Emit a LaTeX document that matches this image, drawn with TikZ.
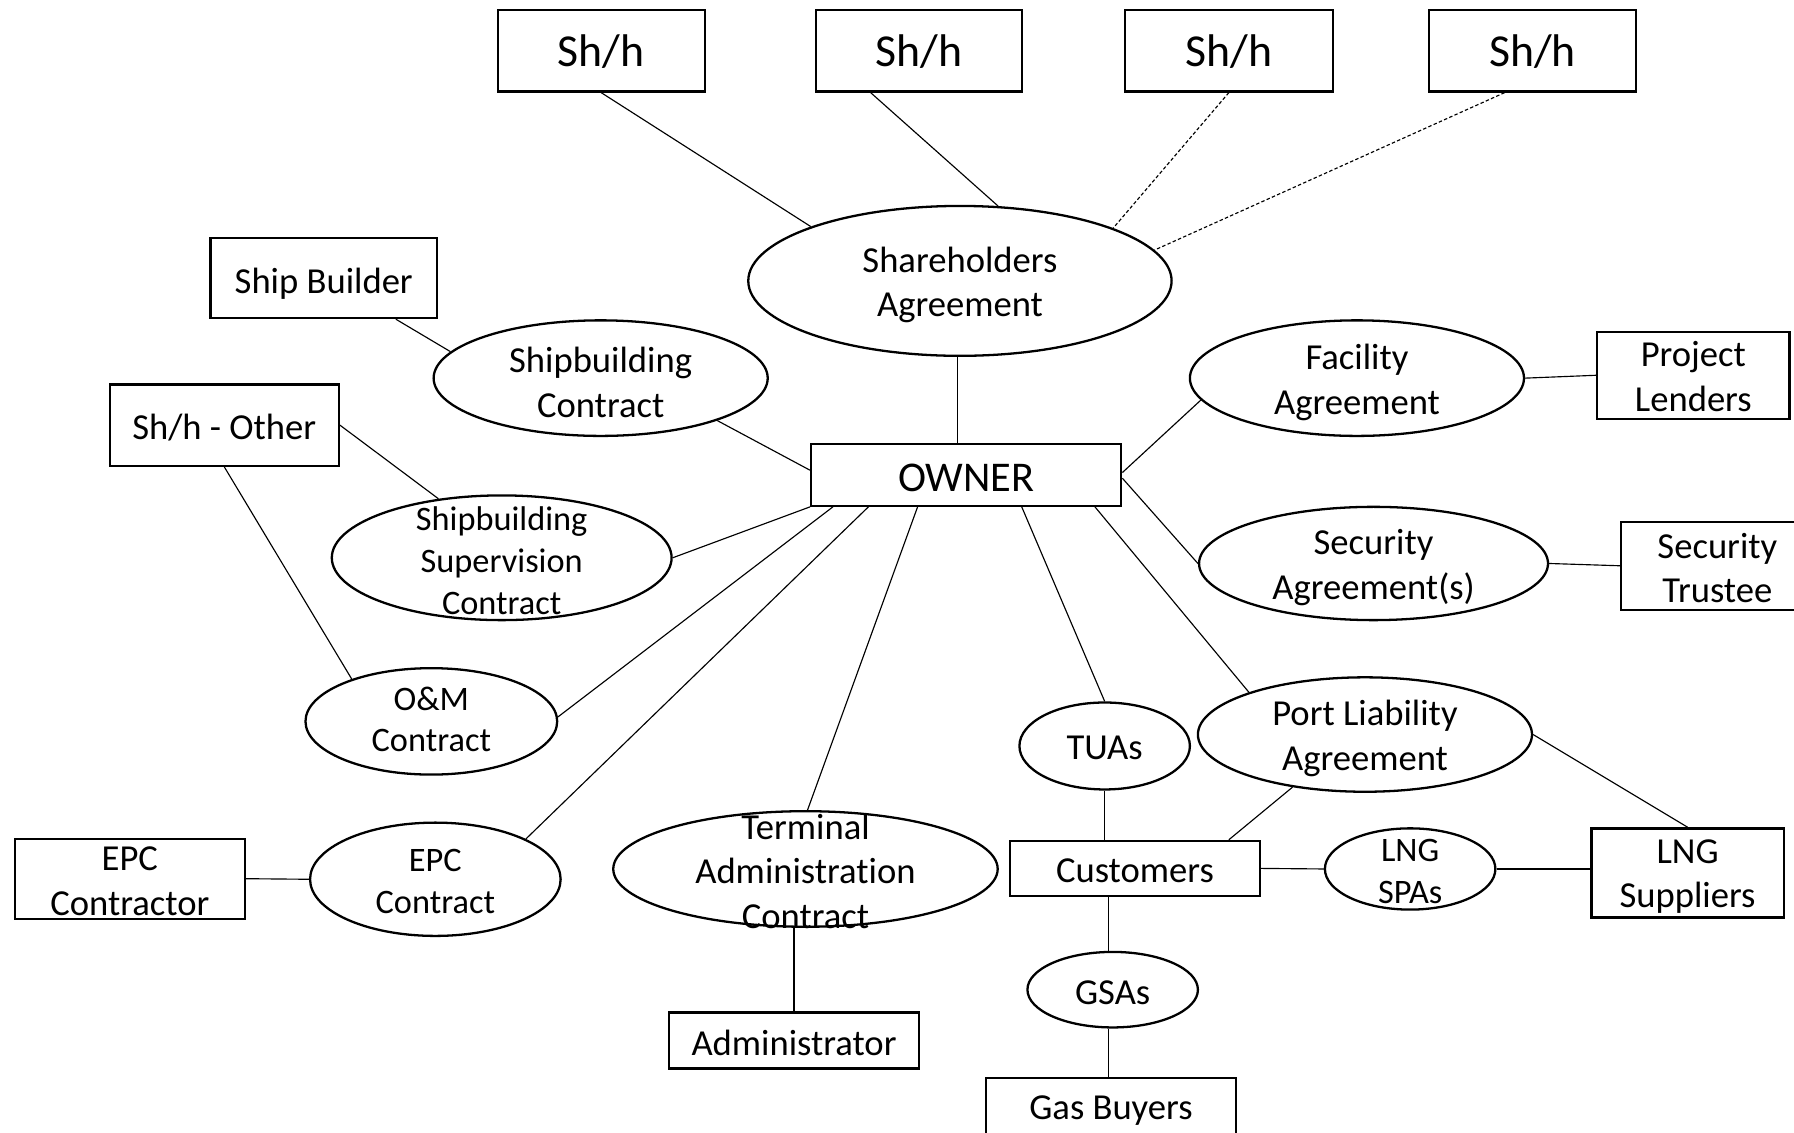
\documentclass[tikz,border=0pt]{standalone}
\usepackage{fontspec}
\setmainfont{Carlito}[Ligatures=NoCommon]
\usetikzlibrary{shapes.geometric,calc}
\newcommand\fA{\fontsize{16}{19.5}\selectfont}
\newcommand\fB{\fontsize{15}{18.5}\selectfont}
\newcommand\fSh{\fontsize{20}{24}\selectfont}
\newcommand\fOwn{\fontsize{18.5}{22}\selectfont}
\newcommand\dn[2]{\raisebox{-#1}[\height][\depth]{#2}}
\tikzset{
  box/.style={draw, line width=1pt, inner sep=0pt, align=center, font=\fA},
  ell/.style={draw, ellipse, line width=1pt, inner sep=0pt},
  lblA/.style={font=\fA, align=center, inner sep=0pt, yshift=-1.75pt},
  lblB/.style={font=\fB, align=center, inner sep=0pt, yshift=-1pt},
  conn/.style={line width=0.5pt},
  dconn/.style={line width=0.5pt, dash pattern=on 1.5pt off 1pt}
}
\begin{document}
\begin{tikzpicture}[x=0.5pt, y=-0.5pt]
\useasboundingbox (0,0) rectangle (1568,989.5);
\clip (0,0) rectangle (1568,989.5);
% shareholders
\node[box, font=\fSh, minimum width=90.5pt, minimum height=35.5pt] (sh1) at (525.5,44.5) {\dn{0.5pt}{Sh/h}};
\node[box, font=\fSh, minimum width=90pt, minimum height=35.5pt] (sh2) at (803,44.5) {\dn{0.5pt}{Sh/h}};
\node[box, font=\fSh, minimum width=91pt, minimum height=35.5pt] (sh3) at (1074,44.5) {\dn{0.5pt}{Sh/h}};
\node[box, font=\fSh, minimum width=90.5pt, minimum height=35.5pt] (sh4) at (1339.5,44.5) {\dn{0.5pt}{Sh/h}};
\node[ell, minimum width=185pt, minimum height=65.5pt, label={[lblA]center:Shareholders\\Agreement}] (sa) at (839,245.5) {};
% left side
\node[box, minimum width=99pt, minimum height=35pt] (sb) at (283,243) {\dn{2.5pt}{Ship Builder}};
\node[ell, minimum width=146pt, minimum height=50.5pt, label={[lblA]center:Shipbuilding\\Contract}] (sbc) at (525,330.5) {};
\node[box, minimum width=100pt, minimum height=35.5pt] (sho) at (196,371.5) {\dn{1pt}{Sh/h - Other}};
\node[ell, minimum width=148.5pt, minimum height=54.5pt, label={[lblB, yshift=-0.3pt]center:Shipbuilding\\Supervision\\Contract}] (ssc) at (438.5,487.5) {};
\node[ell, minimum width=110pt, minimum height=46.5pt, label={[lblB, font=\fontsize{15}{18}\selectfont, yshift=2pt]center:O\&M\\Contract}] (om) at (377,630.5) {};
\node[box, minimum width=100.5pt, minimum height=35pt] (epcc) at (113.5,768) {\dn{1pt}{EPC}\\\dn{1pt}{Contractor}};
\node[ell, minimum width=109.5pt, minimum height=49.5pt, label={[lblB]center:EPC\\Contract}] (epc) at (380.5,768.5) {};
\node[ell, minimum width=168pt, minimum height=50.5pt, label={[lblA, yshift=0.75pt]center:Terminal\\Administration\\Contract}] (tac) at (704,759.5) {};
\node[box, minimum width=109pt, minimum height=24.5pt] (adm) at (694,909.5) {\dn{1pt}{Administrator}};
% owner
\node[box, font=\fOwn, minimum width=135.5pt, minimum height=27pt] (owner) at (844.5,415) {\dn{1.5pt}{OWNER}};
% right side
\node[ell, minimum width=146pt, minimum height=50.5pt, label={[lblA]center:Facility\\Agreement}] (fa) at (1186,330.5) {};
\node[box, minimum width=84pt, minimum height=38pt] (pl) at (1480,328) {\dn{0.5pt}{Project}\\\dn{0.5pt}{Lenders}};
\node[ell, minimum width=152.5pt, minimum height=49.5pt, label={[lblA]center:Security\\Agreement(s)}] (secag) at (1200.5,492.5) {};
\node[box, minimum width=84pt, minimum height=38.5pt] (st) at (1501,494.5) {\dn{1pt}{Security}\\\dn{1pt}{Trustee}};
\node[ell, minimum width=74.5pt, minimum height=38pt, label={[lblA, yshift=0.75pt]center:TUAs}] (tuas) at (965.5,652) {};
\node[ell, minimum width=146pt, minimum height=50pt, label={[lblA]center:Port Liability\\Agreement}] (pla) at (1193,642) {};
\node[box, minimum width=109pt, minimum height=24pt] (cust) at (992,759) {\dn{1pt}{Customers}};
\node[ell, minimum width=74.5pt, minimum height=35.5pt, label={[lblB]center:LNG\\SPAs}] (spa) at (1232.5,759.5) {};
\node[box, minimum width=84pt, minimum height=39pt] (lngs) at (1475,763) {\dn{1.5pt}{LNG}\\\dn{1.5pt}{Suppliers}};
\node[ell, minimum width=74.5pt, minimum height=33pt, label={[lblA, yshift=0.5pt]center:GSAs}] (gsa) at (972.5,865) {};
\node[box, minimum width=109pt, minimum height=26pt] (gb) at (971,968) {\dn{1.5pt}{Gas Buyers}};
% connectors
\draw[conn] (sh1.south) -- (sa.160.1);
\draw[conn] ($(sh2.south west)+(49,0)$) -- (sa.63.3);
\draw[dconn] (sh3.south) -- (sa.19.9);
\draw[dconn] ($(sh4.south west)+(67,0)$) -- (sa.9);
\draw[conn] ($(sa.south)+(-2,0)$) -- ($(sa.south |- owner.north)+(-2,0)$);
\draw[conn] ($(sb.south west)+(163,0)$) -- (sbc.170.7);
\draw[conn] (sbc.-20.6) -- ($(owner.west)+(0,-4)$);
\draw[conn] (sho.east) -- (ssc.137.6);
\draw[conn] (sho.south) -- (om.152.6);
\draw[conn] (ssc.east) -- (owner.south west);
\draw[conn] (om.2.9) -- ($(owner.south west)+(20,0)$);
\draw[conn] (epc.24.6) -- ($(owner.south west)+(51,0)$);
\draw[conn] (epcc.east) -- (epc.west);
\draw[conn] (tac.88) -- ($(owner.south west)+(94,0)$);
\draw[conn] (adm.north) -- (adm.north |- tac.south);
\draw[conn] ($(owner.south west)+(185,0)$) -- (tuas.north);
\draw[conn] ($(owner.south west)+(249,0)$) -- (pla.160.4);
\draw[conn] ($(owner.east)+(0,-2)$) -- (fa.188);
\draw[conn] ($(owner.east)+(0,3)$) -- (secag.west);
\draw[conn] (fa.east) -- (pl.west);
\draw[conn] (secag.east) -- (st.west);
\draw[conn] (tuas.south) -- (tuas.south |- cust.north);
\draw[conn] (pla.-144.7) -- ($(cust.north east)+(-28,0)$);
\draw[conn] (pla.east) -- (lngs.north);
\draw[conn] (cust.east) -- (spa.west);
\draw[conn] (spa.east) -- (spa.east -| lngs.west);
\draw[conn] ($(gsa.north)+(-4,0)$) -- ($(gsa.north |- cust.south)+(-4,0)$);
\draw[conn] ($(gsa.south)+(-4,0)$) -- ($(gsa.south |- gb.north)+(-4,0)$);
\end{tikzpicture}
\end{document}
